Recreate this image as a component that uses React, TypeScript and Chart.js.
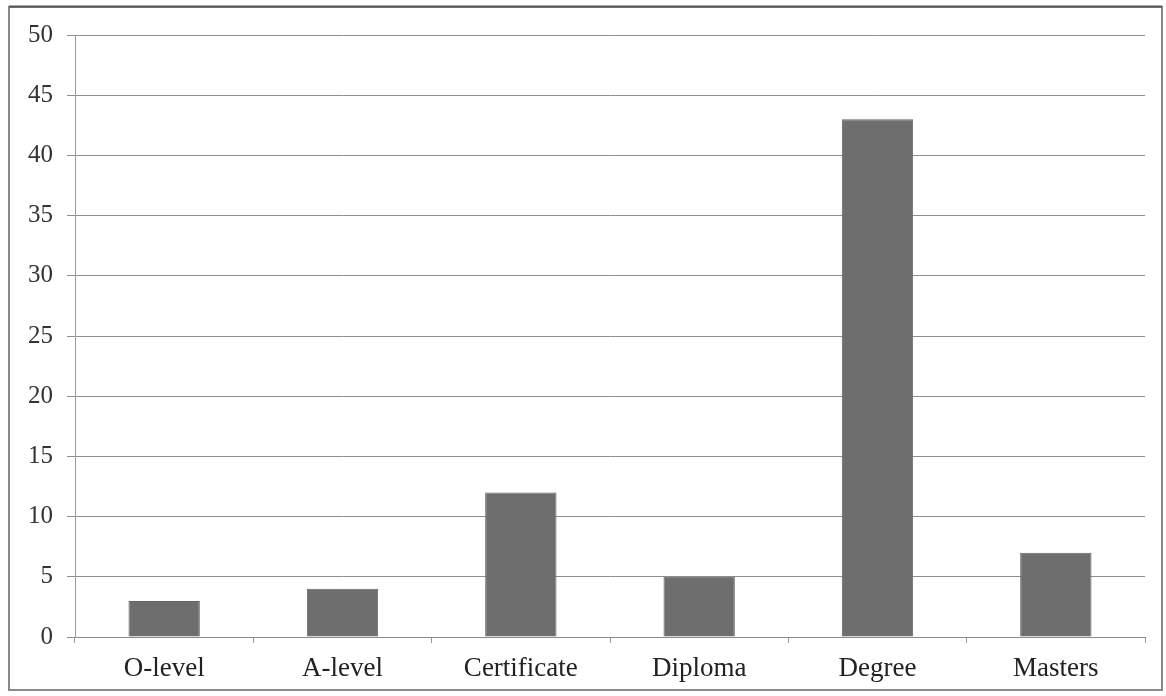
import React, { useEffect, useRef } from "react";
import { Chart, registerables } from "chart.js";

Chart.register(...registerables);

const categories = ["O-level", "A-level", "Certificate", "Diploma", "Degree", "Masters"];
const values = [3, 4, 12, 5, 43, 7];
const yTicks = [0, 5, 10, 15, 20, 25, 30, 35, 40, 45, 50];

const SERIF = "'Liberation Serif', 'Times New Roman', 'DejaVu Serif', serif";

const framePlugin = {
  id: "frame",
  beforeDraw(chart: any) {
    const ctx = chart.ctx;
    ctx.save();
    ctx.fillStyle = "#ffffff";
    ctx.fillRect(0, 0, chart.width, chart.height);
    ctx.strokeStyle = "#8a8a8a";
    ctx.lineWidth = 2;
    ctx.strokeRect(9, 7, 1153, 683);
    ctx.strokeStyle = "#555555";
    ctx.beginPath();
    ctx.moveTo(9, 6.5);
    ctx.lineTo(1162, 6.5);
    ctx.stroke();
    ctx.restore();
  },
};

export default function App() {
  const ref = useRef<HTMLCanvasElement>(null);
  useEffect(() => {
    if (!ref.current) return;
    const chart = new Chart(ref.current, {
      type: "bar",
      data: {
        labels: categories,
        datasets: [
          {
            data: values,
            backgroundColor: "#6e6e6e",
            borderColor: "#666666",
            borderWidth: 1,
            categoryPercentage: 1,
            barPercentage: 0.4,
          },
        ],
      },
      plugins: [framePlugin],
      options: {
        responsive: false,
        animation: false,
        layout: { padding: { left: 0, top: 35, right: 21, bottom: 0 } },
        plugins: { legend: { display: false }, tooltip: { enabled: false } },
        scales: {
          x: {
            offset: true,
            grid: {
              display: true,
              drawOnChartArea: false,
              drawTicks: true,
              tickLength: 6,
              color: "#9a9a9a",
              offset: true,
            },
            border: { display: true, color: "#8a8a8a" },
            ticks: {
              padding: 10,
              color: "#222",
              font: { family: SERIF, size: 27 },
            },
            afterFit: (s: any) => {
              s.height = 59;
            },
          },
          y: {
            min: 0,
            max: 50,
            afterBuildTicks: (s: any) => {
              s.ticks = yTicks.map((v) => ({ value: v }));
            },
            grid: {
              color: "#8f8f8f",
              tickLength: 8,
              drawTicks: true,
            },
            border: { display: true, color: "#9a9a9a" },
            ticks: {
              padding: 14,
              color: "#333",
              font: { family: SERIF, size: 25 },
            },
            afterFit: (s: any) => {
              s.width = 75;
            },
          },
        },
      },
    });
    return () => chart.destroy();
  }, []);
  return (
    <div style={{ position: "fixed", left: 0, top: 0, width: 1166, height: 696 }}>
      <canvas ref={ref} width={1166} height={696} style={{ display: "block" }} />
    </div>
  );
}
